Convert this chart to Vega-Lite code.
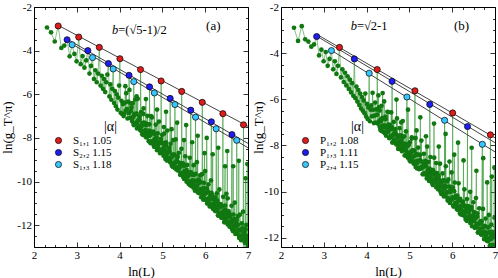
{
"$schema":"https://vega.github.io/schema/vega-lite/v6.json",
"padding":{"left":0,"top":0,"right":4,"bottom":0},
"spacing":33,
"bounds":"flush",
"config":{"view":{"stroke":"black","strokeWidth":1},"font":"Liberation Serif",
"axis":{"domain":false,"grid":false,"labelFont":"Liberation Serif","labelFontSize":11,"labelColor":"black","tickColor":"black","tickWidth":0.8,"titleFont":"Liberation Serif","titleFontSize":13,"titleFontWeight":"normal","titleColor":"black"}},
"datasets":{
"ga":[{"x":2.303,"y":-2.94},{"x":2.398,"y":-3.16},{"x":2.485,"y":-3.58},{"x":2.565,"y":-2.87},{"x":2.639,"y":-3.88},{"x":2.708,"y":-3.77},{"x":2.773,"y":-3.5},{"x":2.833,"y":-4.26},{"x":2.89,"y":-3.73},{"x":2.944,"y":-4.15},{"x":2.996,"y":-4.49},{"x":3.045,"y":-3.38},{"x":3.091,"y":-4.62},{"x":3.135,"y":-4.25},{"x":3.178,"y":-4.78},{"x":3.219,"y":-4.45},{"x":3.258,"y":-4.0},{"x":3.296,"y":-5.05},{"x":3.332,"y":-4.7},{"x":3.367,"y":-4.32},{"x":3.401,"y":-5.3},{"x":3.434,"y":-4.9},{"x":3.466,"y":-5.45},{"x":3.497,"y":-5.05},{"x":3.526,"y":-3.85},{"x":3.555,"y":-5.6},{"x":3.584,"y":-5.15},{"x":3.611,"y":-5.75},{"x":3.638,"y":-5.3},{"x":3.664,"y":-5.9},{"x":3.689,"y":-5.45},{"x":3.714,"y":-5.1},{"x":3.738,"y":-4.59},{"x":3.761,"y":-6.1},{"x":3.784,"y":-5.55},{"x":3.807,"y":-6.25},{"x":3.829,"y":-5.75},{"x":3.85,"y":-4.84},{"x":3.871,"y":-6.4},{"x":3.892,"y":-5.85},{"x":3.912,"y":-6.55},{"x":3.932,"y":-6.0},{"x":3.951,"y":-6.7},{"x":3.97,"y":-6.15},{"x":3.989,"y":-5.6},{"x":4.007,"y":-4.37},{"x":4.025,"y":-6.85},{"x":4.043,"y":-6.3},{"x":4.06,"y":-6.9},{"x":4.078,"y":-6.45},{"x":4.094,"y":-7.0},
{"x":4.22,"y":-5.13},{"x":4.331,"y":-5.42},{"x":4.489,"y":-4.87},{"x":4.7,"y":-5.66},{"x":4.812,"y":-5.94},{"x":4.97,"y":-5.39},{"x":5.182,"y":-6.19},{"x":5.293,"y":-6.47},{"x":5.451,"y":-5.87},{"x":5.663,"y":-6.73},{"x":5.775,"y":-7.05},{"x":5.932,"y":-6.37},{"x":6.144,"y":-7.26},{"x":6.256,"y":-7.58},{"x":6.413,"y":-6.89},{"x":6.625,"y":-7.85},{"x":6.737,"y":-8.11},{"x":6.895,"y":-7.4},
{"x":4.135,"y":-5.63},{"x":4.615,"y":-6.22},{"x":5.085,"y":-6.8},{"x":5.555,"y":-7.41},{"x":6.035,"y":-8.0},{"x":6.515,"y":-8.6},{"x":6.985,"y":-9.2},{"x":4.398,"y":-6.09},{"x":4.875,"y":-6.7},{"x":5.345,"y":-7.3},{"x":5.825,"y":-7.9},{"x":6.305,"y":-8.45},{"x":6.785,"y":-9.05},{"x":4.255,"y":-6.4},{"x":4.735,"y":-7.0},{"x":5.215,"y":-7.6},{"x":5.695,"y":-8.2},{"x":6.175,"y":-8.75},{"x":6.655,"y":-9.3},{"x":4.555,"y":-6.9},{"x":5.035,"y":-7.5},{"x":5.505,"y":-8.1},{"x":5.985,"y":-8.7},{"x":6.465,"y":-9.3},{"x":6.945,"y":-9.85},
{"x":4.11,"y":-6.9},{"x":4.125,"y":-6.38},{"x":4.14,"y":-6.76},{"x":4.155,"y":-5.95},{"x":4.17,"y":-6.68},{"x":4.185,"y":-7.11},{"x":4.2,"y":-6.34},{"x":4.215,"y":-6.87},{"x":4.23,"y":-5.8},{"x":4.245,"y":-7.08},{"x":4.26,"y":-6.77},{"x":4.275,"y":-6.6},{"x":4.29,"y":-7.23},{"x":4.305,"y":-6.41},{"x":4.32,"y":-7.04},{"x":4.335,"y":-7.42},{"x":4.35,"y":-6.91},{"x":4.365,"y":-6.24},{"x":4.38,"y":-7.32},{"x":4.395,"y":-6.9},
{"x":4.41,"y":-7.28},{"x":4.425,"y":-6.21},{"x":4.44,"y":-7.49},{"x":4.455,"y":-7.18},{"x":4.47,"y":-7.01},{"x":4.485,"y":-7.64},{"x":4.5,"y":-6.82},{"x":4.515,"y":-7.45},{"x":4.53,"y":-7.83},{"x":4.545,"y":-7.31},{"x":4.56,"y":-6.65},{"x":4.575,"y":-7.73},{"x":4.59,"y":-7.31},{"x":4.605,"y":-7.94},{"x":4.62,"y":-7.42},{"x":4.635,"y":-7.8},{"x":4.65,"y":-6.99},{"x":4.665,"y":-7.72},{"x":4.68,"y":-8.15},{"x":4.695,"y":-7.38},
{"x":4.71,"y":-7.86},{"x":4.725,"y":-8.24},{"x":4.74,"y":-7.72},{"x":4.755,"y":-7.06},{"x":4.77,"y":-8.14},{"x":4.785,"y":-7.72},{"x":4.8,"y":-8.35},{"x":4.815,"y":-7.83},{"x":4.83,"y":-8.21},{"x":4.845,"y":-7.39},{"x":4.86,"y":-8.13},{"x":4.875,"y":-8.56},{"x":4.89,"y":-7.79},{"x":4.905,"y":-8.32},{"x":4.92,"y":-7.25},{"x":4.935,"y":-8.53},{"x":4.95,"y":-8.22},{"x":4.965,"y":-8.05},{"x":4.98,"y":-8.68},{"x":4.995,"y":-7.86},
{"x":5.01,"y":-8.24},{"x":5.025,"y":-8.62},{"x":5.04,"y":-7.8},{"x":5.055,"y":-8.54},{"x":5.07,"y":-8.97},{"x":5.085,"y":-8.2},{"x":5.1,"y":-8.73},{"x":5.115,"y":-7.66},{"x":5.13,"y":-8.94},{"x":5.145,"y":-8.62},{"x":5.16,"y":-8.46},{"x":5.175,"y":-9.09},{"x":5.19,"y":-8.27},{"x":5.205,"y":-8.9},{"x":5.22,"y":-9.28},{"x":5.235,"y":-8.76},{"x":5.25,"y":-8.1},{"x":5.265,"y":-9.18},{"x":5.28,"y":-8.76},{"x":5.295,"y":-9.39},
{"x":5.31,"y":-8.07},{"x":5.325,"y":-9.35},{"x":5.34,"y":-9.03},{"x":5.355,"y":-8.87},{"x":5.37,"y":-9.5},{"x":5.385,"y":-8.68},{"x":5.4,"y":-9.31},{"x":5.415,"y":-9.69},{"x":5.43,"y":-9.17},{"x":5.445,"y":-8.5},{"x":5.46,"y":-9.59},{"x":5.475,"y":-9.17},{"x":5.49,"y":-9.8},{"x":5.505,"y":-9.28},{"x":5.52,"y":-9.66},{"x":5.535,"y":-8.84},{"x":5.55,"y":-9.58},{"x":5.565,"y":-10.01},{"x":5.58,"y":-9.24},{"x":5.595,"y":-9.77},
{"x":5.61,"y":-10.1},{"x":5.625,"y":-9.58},{"x":5.64,"y":-8.91},{"x":5.655,"y":-10.0},{"x":5.67,"y":-9.58},{"x":5.685,"y":-10.21},{"x":5.7,"y":-9.69},{"x":5.715,"y":-10.07},{"x":5.73,"y":-9.25},{"x":5.745,"y":-9.98},{"x":5.76,"y":-10.42},{"x":5.775,"y":-9.65},{"x":5.79,"y":-10.18},{"x":5.805,"y":-9.11},{"x":5.82,"y":-10.39},{"x":5.835,"y":-10.07},{"x":5.85,"y":-9.91},{"x":5.865,"y":-10.54},{"x":5.88,"y":-9.72},{"x":5.895,"y":-10.35},
{"x":5.91,"y":-10.48},{"x":5.925,"y":-9.66},{"x":5.94,"y":-10.39},{"x":5.955,"y":-10.83},{"x":5.97,"y":-10.06},{"x":5.985,"y":-10.59},{"x":6.0,"y":-9.52},{"x":6.015,"y":-10.8},{"x":6.03,"y":-10.48},{"x":6.045,"y":-10.31},{"x":6.06,"y":-10.95},{"x":6.075,"y":-10.13},{"x":6.09,"y":-10.76},{"x":6.105,"y":-11.14},{"x":6.12,"y":-10.62},{"x":6.135,"y":-9.95},{"x":6.15,"y":-11.04},{"x":6.165,"y":-10.62},{"x":6.18,"y":-11.25},{"x":6.195,"y":-10.73},
{"x":6.21,"y":-11.21},{"x":6.225,"y":-10.89},{"x":6.24,"y":-10.72},{"x":6.255,"y":-11.36},{"x":6.27,"y":-10.54},{"x":6.285,"y":-11.17},{"x":6.3,"y":-11.55},{"x":6.315,"y":-11.03},{"x":6.33,"y":-10.36},{"x":6.345,"y":-11.44},{"x":6.36,"y":-11.03},{"x":6.375,"y":-11.66},{"x":6.39,"y":-11.14},{"x":6.405,"y":-11.52},{"x":6.42,"y":-10.7},{"x":6.435,"y":-11.43},{"x":6.45,"y":-11.87},{"x":6.465,"y":-11.1},{"x":6.48,"y":-11.63},{"x":6.495,"y":-10.56},
{"x":6.51,"y":-11.44},{"x":6.525,"y":-10.77},{"x":6.54,"y":-11.85},{"x":6.555,"y":-11.44},{"x":6.57,"y":-12.07},{"x":6.585,"y":-11.55},{"x":6.6,"y":-11.93},{"x":6.615,"y":-11.11},{"x":6.63,"y":-11.84},{"x":6.645,"y":-12.27},{"x":6.66,"y":-11.51},{"x":6.675,"y":-12.04},{"x":6.69,"y":-10.97},{"x":6.705,"y":-12.25},{"x":6.72,"y":-11.93},{"x":6.735,"y":-11.76},{"x":6.75,"y":-12.4},{"x":6.765,"y":-11.58},{"x":6.78,"y":-12.21},{"x":6.795,"y":-12.59},
{"x":6.81,"y":-11.52},{"x":6.825,"y":-12.25},{"x":6.84,"y":-12.68},{"x":6.855,"y":-11.92},{"x":6.87,"y":-12.45},{"x":6.885,"y":-11.38},{"x":6.9,"y":-12.66},{"x":6.915,"y":-12.34},{"x":6.93,"y":-12.17},{"x":6.945,"y":-12.8},{"x":6.96,"y":-11.99},{"x":6.975,"y":-12.62},{"x":6.99,"y":-13.0},{"x":6.905,"y":-13.1},{"x":6.965,"y":-13.2},{"x":7.0,"y":-12.9},
{"x":4.306,"y":-7.06},{"x":4.326,"y":-7.35},{"x":4.346,"y":-6.94},{"x":4.366,"y":-7.34},{"x":4.386,"y":-6.88},{"x":4.406,"y":-7.57},{"x":4.426,"y":-7.21},{"x":4.446,"y":-7.45},{"x":4.466,"y":-7.15},{"x":4.486,"y":-7.64},
{"x":4.506,"y":-7.68},{"x":4.526,"y":-7.37},{"x":4.546,"y":-7.86},{"x":4.566,"y":-7.31},{"x":4.586,"y":-7.7},{"x":4.606,"y":-7.64},{"x":4.626,"y":-7.98},{"x":4.646,"y":-7.37},{"x":4.666,"y":-7.92},{"x":4.686,"y":-7.66},
{"x":4.706,"y":-7.9},{"x":4.726,"y":-8.19},{"x":4.746,"y":-7.78},{"x":4.766,"y":-8.18},{"x":4.786,"y":-7.72},{"x":4.806,"y":-8.41},{"x":4.826,"y":-8.05},{"x":4.846,"y":-8.29},{"x":4.866,"y":-7.99},{"x":4.886,"y":-8.48},
{"x":4.906,"y":-8.52},{"x":4.926,"y":-8.21},{"x":4.946,"y":-8.7},{"x":4.966,"y":-8.15},{"x":4.986,"y":-8.54},
{"x":5.006,"y":-8.53},{"x":5.026,"y":-8.82},{"x":5.046,"y":-8.41},{"x":5.066,"y":-8.81},{"x":5.086,"y":-8.35},{"x":5.106,"y":-9.04},{"x":5.126,"y":-8.68},{"x":5.146,"y":-8.92},{"x":5.166,"y":-8.62},{"x":5.186,"y":-9.11},
{"x":5.206,"y":-9.15},{"x":5.226,"y":-8.84},{"x":5.246,"y":-9.33},{"x":5.266,"y":-8.78},{"x":5.286,"y":-9.17},{"x":5.306,"y":-9.11},{"x":5.326,"y":-9.45},{"x":5.346,"y":-8.84},{"x":5.366,"y":-9.39},{"x":5.386,"y":-9.13},
{"x":5.406,"y":-9.37},{"x":5.426,"y":-9.66},{"x":5.446,"y":-9.25},{"x":5.466,"y":-9.65},{"x":5.486,"y":-9.19},{"x":5.506,"y":-9.88},{"x":5.526,"y":-9.52},{"x":5.546,"y":-9.76},{"x":5.566,"y":-9.46},{"x":5.586,"y":-9.95},
{"x":5.606,"y":-9.99},{"x":5.626,"y":-9.68},{"x":5.646,"y":-10.17},{"x":5.666,"y":-9.62},{"x":5.686,"y":-10.01},{"x":5.706,"y":-9.95},{"x":5.726,"y":-10.29},{"x":5.746,"y":-9.68},{"x":5.766,"y":-10.23},{"x":5.786,"y":-9.97},
{"x":5.806,"y":-10.21},{"x":5.826,"y":-10.5},{"x":5.846,"y":-10.09},{"x":5.866,"y":-10.49},{"x":5.886,"y":-10.03},{"x":5.906,"y":-10.72},{"x":5.926,"y":-10.36},{"x":5.946,"y":-10.6},{"x":5.966,"y":-10.3},{"x":5.986,"y":-10.79},
{"x":6.006,"y":-10.83},{"x":6.026,"y":-10.52},{"x":6.046,"y":-11.01},{"x":6.066,"y":-10.46},{"x":6.086,"y":-10.85},{"x":6.106,"y":-10.79},{"x":6.126,"y":-11.13},{"x":6.146,"y":-10.52},{"x":6.166,"y":-11.07},{"x":6.186,"y":-10.81},
{"x":6.206,"y":-11.05},{"x":6.226,"y":-11.34},{"x":6.246,"y":-10.93},{"x":6.266,"y":-11.33},{"x":6.286,"y":-10.87},{"x":6.306,"y":-11.56},{"x":6.326,"y":-11.2},{"x":6.346,"y":-11.44},{"x":6.366,"y":-11.14},{"x":6.386,"y":-11.63},
{"x":6.406,"y":-11.67},{"x":6.426,"y":-11.36},{"x":6.446,"y":-11.85},{"x":6.466,"y":-11.3},{"x":6.486,"y":-11.69},{"x":6.506,"y":-11.63},{"x":6.526,"y":-11.97},{"x":6.546,"y":-11.36},{"x":6.566,"y":-11.91},{"x":6.586,"y":-11.65},
{"x":6.606,"y":-11.89},{"x":6.626,"y":-12.18},{"x":6.646,"y":-11.77},{"x":6.666,"y":-12.17},{"x":6.686,"y":-11.71},{"x":6.706,"y":-12.4},{"x":6.726,"y":-12.04},{"x":6.746,"y":-12.28},{"x":6.766,"y":-11.98},{"x":6.786,"y":-12.47},
{"x":6.806,"y":-12.51},{"x":6.826,"y":-12.2},{"x":6.846,"y":-12.69},{"x":6.866,"y":-12.14},{"x":6.886,"y":-12.53},{"x":6.906,"y":-12.47},{"x":6.926,"y":-12.81},{"x":6.946,"y":-12.2},{"x":6.966,"y":-12.75},{"x":6.986,"y":-12.49}],
"gb":[{"x":2.303,"y":-2.9},{"x":2.398,"y":-3.47},{"x":2.485,"y":-2.83},{"x":2.565,"y":-3.4},{"x":2.639,"y":-3.5},{"x":2.708,"y":-3.72},{"x":2.773,"y":-3.62},{"x":2.833,"y":-3.28},{"x":2.89,"y":-4.1},{"x":2.944,"y":-3.85},{"x":2.996,"y":-4.35},{"x":3.045,"y":-3.95},{"x":3.091,"y":-4.55},{"x":3.135,"y":-4.25},{"x":3.178,"y":-3.89},{"x":3.219,"y":-4.7},{"x":3.258,"y":-4.35},{"x":3.296,"y":-4.9},{"x":3.332,"y":-4.55},{"x":3.367,"y":-3.75},{"x":3.401,"y":-5.05},{"x":3.434,"y":-4.7},{"x":3.466,"y":-5.25},{"x":3.497,"y":-4.85},{"x":3.526,"y":-5.4},{"x":3.555,"y":-5.0},{"x":3.584,"y":-5.55},{"x":3.611,"y":-5.15},{"x":3.638,"y":-5.7},{"x":3.664,"y":-5.3},{"x":3.689,"y":-5.85},{"x":3.714,"y":-4.25},{"x":3.738,"y":-5.95},{"x":3.761,"y":-5.45},{"x":3.784,"y":-6.1},{"x":3.807,"y":-5.6},{"x":3.829,"y":-6.25},{"x":3.85,"y":-5.75},{"x":3.871,"y":-6.4},{"x":3.892,"y":-5.9},{"x":3.912,"y":-6.5},{"x":3.932,"y":-6.05},{"x":3.951,"y":-6.6},{"x":3.97,"y":-5.75},{"x":3.989,"y":-6.75},{"x":4.007,"y":-6.2},{"x":4.025,"y":-6.85},{"x":4.043,"y":-6.35},{"x":4.06,"y":-4.87},{"x":4.078,"y":-6.95},{"x":4.094,"y":-6.45},
{"x":4.248,"y":-4.71},{"x":4.595,"y":-5.22},{"x":4.942,"y":-5.9},{"x":5.13,"y":-5.63},{"x":5.476,"y":-6.22},{"x":5.823,"y":-6.91},{"x":6.011,"y":-6.59},{"x":6.358,"y":-7.18},{"x":6.704,"y":-7.95},{"x":6.893,"y":-7.54},
{"x":4.375,"y":-5.73},{"x":5.255,"y":-6.78},{"x":6.137,"y":-7.88},{"x":6.985,"y":-8.95},{"x":4.698,"y":-6.01},{"x":5.575,"y":-7.05},{"x":6.455,"y":-8.1},{"x":4.967,"y":-6.45},{"x":5.845,"y":-7.5},{"x":6.725,"y":-8.55},{"x":4.505,"y":-6.55},{"x":5.387,"y":-7.6},{"x":6.265,"y":-8.65},{"x":4.807,"y":-7.0},{"x":5.687,"y":-8.05},{"x":6.565,"y":-9.1},{"x":4.285,"y":-6.35},{"x":5.167,"y":-7.35},{"x":6.047,"y":-8.4},{"x":6.925,"y":-9.35},{"x":5.057,"y":-7.7},{"x":5.937,"y":-8.7},{"x":6.817,"y":-9.6},
{"x":4.11,"y":-6.26},{"x":4.125,"y":-6.74},{"x":4.14,"y":-5.72},{"x":4.155,"y":-6.45},{"x":4.17,"y":-7.03},{"x":4.185,"y":-6.71},{"x":4.2,"y":-6.14},{"x":4.215,"y":-7.01},{"x":4.23,"y":-6.44},{"x":4.245,"y":-6.67},{"x":4.26,"y":-7.05},{"x":4.275,"y":-5.83},{"x":4.29,"y":-6.96},{"x":4.305,"y":-6.49},{"x":4.32,"y":-7.32},{"x":4.335,"y":-6.95},{"x":4.35,"y":-6.28},{"x":4.365,"y":-7.16},{"x":4.38,"y":-6.84},{"x":4.395,"y":-7.42},
{"x":4.41,"y":-6.09},{"x":4.425,"y":-7.22},{"x":4.44,"y":-6.75},{"x":4.455,"y":-7.58},{"x":4.47,"y":-7.21},{"x":4.485,"y":-6.54},{"x":4.5,"y":-7.42},{"x":4.515,"y":-7.1},{"x":4.53,"y":-7.68},{"x":4.545,"y":-7.11},{"x":4.56,"y":-7.59},{"x":4.575,"y":-6.57},{"x":4.59,"y":-7.3},{"x":4.605,"y":-7.87},{"x":4.62,"y":-7.55},{"x":4.635,"y":-6.98},{"x":4.65,"y":-7.86},{"x":4.665,"y":-7.29},{"x":4.68,"y":-7.52},{"x":4.695,"y":-7.9},
{"x":4.71,"y":-6.83},{"x":4.725,"y":-7.56},{"x":4.74,"y":-8.14},{"x":4.755,"y":-7.82},{"x":4.77,"y":-7.25},{"x":4.785,"y":-8.13},{"x":4.8,"y":-7.56},{"x":4.815,"y":-7.78},{"x":4.83,"y":-8.16},{"x":4.845,"y":-6.94},{"x":4.86,"y":-8.07},{"x":4.875,"y":-7.6},{"x":4.89,"y":-8.43},{"x":4.905,"y":-8.06},{"x":4.92,"y":-7.39},{"x":4.935,"y":-8.27},{"x":4.95,"y":-7.95},{"x":4.965,"y":-8.53},{"x":4.98,"y":-7.96},{"x":4.995,"y":-8.44},
{"x":5.01,"y":-7.86},{"x":5.025,"y":-8.69},{"x":5.04,"y":-8.32},{"x":5.055,"y":-7.65},{"x":5.07,"y":-8.53},{"x":5.085,"y":-8.21},{"x":5.1,"y":-8.79},{"x":5.115,"y":-8.22},{"x":5.13,"y":-8.7},{"x":5.145,"y":-7.68},{"x":5.16,"y":-8.41},{"x":5.175,"y":-8.99},{"x":5.19,"y":-8.67},{"x":5.205,"y":-8.09},{"x":5.22,"y":-8.97},{"x":5.235,"y":-8.4},{"x":5.25,"y":-8.63},{"x":5.265,"y":-9.01},{"x":5.28,"y":-7.79},{"x":5.295,"y":-8.92},
{"x":5.31,"y":-9.25},{"x":5.325,"y":-8.93},{"x":5.34,"y":-8.36},{"x":5.355,"y":-9.24},{"x":5.37,"y":-8.67},{"x":5.385,"y":-8.9},{"x":5.4,"y":-9.28},{"x":5.415,"y":-8.05},{"x":5.43,"y":-9.18},{"x":5.445,"y":-8.71},{"x":5.46,"y":-9.54},{"x":5.475,"y":-9.17},{"x":5.49,"y":-8.5},{"x":5.505,"y":-9.38},{"x":5.52,"y":-9.06},{"x":5.535,"y":-9.64},{"x":5.55,"y":-9.07},{"x":5.565,"y":-9.55},{"x":5.58,"y":-8.53},{"x":5.595,"y":-9.26},
{"x":5.61,"y":-9.43},{"x":5.625,"y":-8.76},{"x":5.64,"y":-9.64},{"x":5.655,"y":-9.32},{"x":5.67,"y":-9.9},{"x":5.685,"y":-9.33},{"x":5.7,"y":-9.81},{"x":5.715,"y":-8.79},{"x":5.73,"y":-9.52},{"x":5.745,"y":-10.1},{"x":5.76,"y":-9.78},{"x":5.775,"y":-9.21},{"x":5.79,"y":-10.09},{"x":5.805,"y":-9.51},{"x":5.82,"y":-9.74},{"x":5.835,"y":-10.12},{"x":5.85,"y":-8.9},{"x":5.865,"y":-10.03},{"x":5.88,"y":-9.56},{"x":5.895,"y":-10.39},
{"x":5.91,"y":-9.47},{"x":5.925,"y":-10.35},{"x":5.94,"y":-9.78},{"x":5.955,"y":-10.01},{"x":5.97,"y":-10.39},{"x":5.985,"y":-9.17},{"x":6.0,"y":-10.3},{"x":6.015,"y":-9.82},{"x":6.03,"y":-10.65},{"x":6.045,"y":-10.28},{"x":6.06,"y":-9.61},{"x":6.075,"y":-10.49},{"x":6.09,"y":-10.17},{"x":6.105,"y":-10.75},{"x":6.12,"y":-10.18},{"x":6.135,"y":-10.66},{"x":6.15,"y":-9.64},{"x":6.165,"y":-10.37},{"x":6.18,"y":-10.95},{"x":6.195,"y":-10.63},
{"x":6.21,"y":-10.75},{"x":6.225,"y":-10.43},{"x":6.24,"y":-11.01},{"x":6.255,"y":-10.44},{"x":6.27,"y":-10.92},{"x":6.285,"y":-9.9},{"x":6.3,"y":-10.63},{"x":6.315,"y":-11.21},{"x":6.33,"y":-10.89},{"x":6.345,"y":-10.32},{"x":6.36,"y":-11.2},{"x":6.375,"y":-10.63},{"x":6.39,"y":-10.86},{"x":6.405,"y":-11.23},{"x":6.42,"y":-10.01},{"x":6.435,"y":-11.14},{"x":6.45,"y":-10.67},{"x":6.465,"y":-11.5},{"x":6.48,"y":-11.13},{"x":6.495,"y":-10.46},
{"x":6.51,"y":-10.89},{"x":6.525,"y":-11.12},{"x":6.54,"y":-11.5},{"x":6.555,"y":-10.28},{"x":6.57,"y":-11.41},{"x":6.585,"y":-10.94},{"x":6.6,"y":-11.77},{"x":6.615,"y":-11.39},{"x":6.63,"y":-10.72},{"x":6.645,"y":-11.6},{"x":6.66,"y":-11.28},{"x":6.675,"y":-11.86},{"x":6.69,"y":-11.29},{"x":6.705,"y":-11.77},{"x":6.72,"y":-10.75},{"x":6.735,"y":-11.48},{"x":6.75,"y":-12.06},{"x":6.765,"y":-11.74},{"x":6.78,"y":-11.17},{"x":6.795,"y":-12.05},
{"x":6.81,"y":-12.12},{"x":6.825,"y":-11.55},{"x":6.84,"y":-12.03},{"x":6.855,"y":-11.01},{"x":6.87,"y":-11.74},{"x":6.885,"y":-12.32},{"x":6.9,"y":-12.0},{"x":6.915,"y":-11.43},{"x":6.93,"y":-12.31},{"x":6.945,"y":-11.74},{"x":6.96,"y":-11.97},{"x":6.975,"y":-12.35},{"x":6.99,"y":-11.13},{"x":6.868,"y":-12.45},{"x":6.928,"y":-12.6},{"x":6.988,"y":-12.7},{"x":7.0,"y":-12.5},
{"x":4.306,"y":-7.19},{"x":4.326,"y":-6.88},{"x":4.346,"y":-7.37},{"x":4.366,"y":-6.81},{"x":4.386,"y":-7.2},{"x":4.406,"y":-7.13},{"x":4.426,"y":-7.47},{"x":4.446,"y":-6.86},{"x":4.466,"y":-7.4},{"x":4.486,"y":-7.14},
{"x":4.506,"y":-7.38},{"x":4.526,"y":-7.67},{"x":4.546,"y":-7.26},{"x":4.566,"y":-7.65},{"x":4.586,"y":-7.19},{"x":4.606,"y":-7.87},{"x":4.626,"y":-7.51},{"x":4.646,"y":-7.75},{"x":4.666,"y":-7.44},{"x":4.686,"y":-7.93},
{"x":4.706,"y":-7.97},{"x":4.726,"y":-7.66},{"x":4.746,"y":-8.15},{"x":4.766,"y":-7.59},{"x":4.786,"y":-7.98},{"x":4.806,"y":-7.91},{"x":4.826,"y":-8.25},{"x":4.846,"y":-7.64},{"x":4.866,"y":-8.18},{"x":4.886,"y":-7.92},
{"x":4.906,"y":-8.16},{"x":4.926,"y":-8.45},{"x":4.946,"y":-8.04},{"x":4.966,"y":-8.43},{"x":4.986,"y":-7.97},{"x":5.006,"y":-8.65},{"x":5.026,"y":-8.29},{"x":5.046,"y":-8.53},{"x":5.066,"y":-8.22},{"x":5.086,"y":-8.71},
{"x":5.106,"y":-8.75},{"x":5.126,"y":-8.44},{"x":5.146,"y":-8.93},{"x":5.166,"y":-8.37},{"x":5.186,"y":-8.76},{"x":5.206,"y":-8.69},{"x":5.226,"y":-9.03},{"x":5.246,"y":-8.42},{"x":5.266,"y":-8.96},{"x":5.286,"y":-8.7},
{"x":5.306,"y":-8.94},{"x":5.326,"y":-9.23},{"x":5.346,"y":-8.82},{"x":5.366,"y":-9.21},{"x":5.386,"y":-8.75},{"x":5.406,"y":-9.43},{"x":5.426,"y":-9.07},{"x":5.446,"y":-9.31},{"x":5.466,"y":-9.0},{"x":5.486,"y":-9.49},
{"x":5.506,"y":-9.53},{"x":5.526,"y":-9.22},{"x":5.546,"y":-9.71},{"x":5.566,"y":-9.15},{"x":5.586,"y":-9.54},{"x":5.606,"y":-9.47},{"x":5.626,"y":-9.81},{"x":5.646,"y":-9.2},{"x":5.666,"y":-9.74},{"x":5.686,"y":-9.48},
{"x":5.706,"y":-9.72},{"x":5.726,"y":-10.01},{"x":5.746,"y":-9.6},{"x":5.766,"y":-9.99},{"x":5.786,"y":-9.53},{"x":5.806,"y":-10.21},{"x":5.826,"y":-9.85},{"x":5.846,"y":-10.09},{"x":5.866,"y":-9.78},{"x":5.886,"y":-10.27},
{"x":5.906,"y":-10.31},{"x":5.926,"y":-10.0},{"x":5.946,"y":-10.49},{"x":5.966,"y":-9.93},{"x":5.986,"y":-10.32},{"x":6.006,"y":-10.25},{"x":6.026,"y":-10.59},{"x":6.046,"y":-9.98},{"x":6.066,"y":-10.52},{"x":6.086,"y":-10.26},
{"x":6.106,"y":-10.5},{"x":6.126,"y":-10.79},{"x":6.146,"y":-10.38},{"x":6.166,"y":-10.77},{"x":6.186,"y":-10.31},{"x":6.206,"y":-10.99},{"x":6.226,"y":-10.63},{"x":6.246,"y":-10.87},{"x":6.266,"y":-10.56},{"x":6.286,"y":-11.05},
{"x":6.306,"y":-11.09},{"x":6.326,"y":-10.78},{"x":6.346,"y":-11.27},{"x":6.366,"y":-10.71},{"x":6.386,"y":-11.1},{"x":6.406,"y":-11.03},{"x":6.426,"y":-11.37},{"x":6.446,"y":-10.76},{"x":6.466,"y":-11.3},{"x":6.486,"y":-11.04},
{"x":6.506,"y":-11.28},{"x":6.526,"y":-11.57},{"x":6.546,"y":-11.16},{"x":6.566,"y":-11.55},{"x":6.586,"y":-11.09},{"x":6.606,"y":-11.77},{"x":6.626,"y":-11.41},{"x":6.646,"y":-11.65},{"x":6.666,"y":-11.34},{"x":6.686,"y":-11.83},
{"x":6.706,"y":-11.87},{"x":6.726,"y":-11.56},{"x":6.746,"y":-12.05},{"x":6.766,"y":-11.49},{"x":6.786,"y":-11.88},{"x":6.806,"y":-11.81},{"x":6.826,"y":-12.15},{"x":6.846,"y":-11.54},{"x":6.866,"y":-12.08},{"x":6.886,"y":-11.82},
{"x":6.906,"y":-12.06},{"x":6.926,"y":-12.35},{"x":6.946,"y":-11.94},{"x":6.966,"y":-12.33},{"x":6.986,"y":-11.87}],
"ca":[{"x":2.565,"y":-2.87,"s":"S₁,₁   1.05"},{"x":3.045,"y":-3.38,"s":"S₁,₁   1.05"},{"x":3.526,"y":-3.85,"s":"S₁,₁   1.05"},{"x":4.007,"y":-4.37,"s":"S₁,₁   1.05"},{"x":4.489,"y":-4.87,"s":"S₁,₁   1.05"},{"x":4.97,"y":-5.39,"s":"S₁,₁   1.05"},{"x":5.451,"y":-5.87,"s":"S₁,₁   1.05"},{"x":5.932,"y":-6.37,"s":"S₁,₁   1.05"},{"x":6.413,"y":-6.89,"s":"S₁,₁   1.05"},{"x":6.895,"y":-7.4,"s":"S₁,₁   1.05"},
{"x":2.773,"y":-3.5,"s":"S₂,₂   1.15"},{"x":3.258,"y":-4.0,"s":"S₂,₂   1.15"},{"x":3.738,"y":-4.59,"s":"S₂,₂   1.15"},{"x":4.22,"y":-5.13,"s":"S₂,₂   1.15"},{"x":4.7,"y":-5.66,"s":"S₂,₂   1.15"},{"x":5.182,"y":-6.19,"s":"S₂,₂   1.15"},{"x":5.663,"y":-6.73,"s":"S₂,₂   1.15"},{"x":6.144,"y":-7.26,"s":"S₂,₂   1.15"},{"x":6.625,"y":-7.85,"s":"S₂,₂   1.15"},
{"x":2.89,"y":-3.73,"s":"S₁,₃   1.18"},{"x":3.367,"y":-4.32,"s":"S₁,₃   1.18"},{"x":3.85,"y":-4.84,"s":"S₁,₃   1.18"},{"x":4.331,"y":-5.42,"s":"S₁,₃   1.18"},{"x":4.812,"y":-5.94,"s":"S₁,₃   1.18"},{"x":5.293,"y":-6.47,"s":"S₁,₃   1.18"},{"x":5.775,"y":-7.05,"s":"S₁,₃   1.18"},{"x":6.256,"y":-7.58,"s":"S₁,₃   1.18"},{"x":6.737,"y":-8.11,"s":"S₁,₃   1.18"}],
"cb":[{"x":3.367,"y":-3.75,"s":"P₁,₂   1.08"},{"x":4.248,"y":-4.71,"s":"P₁,₂   1.08"},{"x":5.13,"y":-5.63,"s":"P₁,₂   1.08"},{"x":6.011,"y":-6.59,"s":"P₁,₂   1.08"},{"x":6.893,"y":-7.54,"s":"P₁,₂   1.08"},
{"x":2.833,"y":-3.28,"s":"P₁,₃   1.11"},{"x":3.714,"y":-4.25,"s":"P₁,₃   1.11"},{"x":4.595,"y":-5.22,"s":"P₁,₃   1.11"},{"x":5.476,"y":-6.22,"s":"P₁,₃   1.11"},{"x":6.358,"y":-7.18,"s":"P₁,₃   1.11"},
{"x":3.178,"y":-3.89,"s":"P₂,₄   1.15"},{"x":4.06,"y":-4.87,"s":"P₂,₄   1.15"},{"x":4.942,"y":-5.9,"s":"P₂,₄   1.15"},{"x":5.823,"y":-6.91,"s":"P₂,₄   1.15"},{"x":6.704,"y":-7.95,"s":"P₂,₄   1.15"}],
"fa":[{"x":2.565,"y":-2.84,"x2":7,"y2":-7.47},{"x":2.773,"y":-3.47,"x2":7,"y2":-8.25},{"x":2.89,"y":-3.7,"x2":7,"y2":-8.45}],
"fb":[{"x":2.833,"y":-3.18,"x2":7,"y2":-7.67},{"x":2.833,"y":-3.26,"x2":7,"y2":-7.88},{"x":3.178,"y":-3.88,"x2":7,"y2":-8.28}]
},
"hconcat":[
{"width":214,"height":240,
"layer":[
{"data":{"name":"ga"},"mark":{"type":"line","color":"#339933","opacity":0.6,"strokeWidth":1,"clip":true},
"encoding":{"x":{"field":"x","type":"quantitative","scale":{"domain":[2,7],"nice":false,"zero":false},
"axis":{"orient":"bottom","values":[2,2.25,2.5,2.75,3,3.25,3.5,3.75,4,4.25,4.5,4.75,5,5.25,5.5,5.75,6,6.25,6.5,6.75,7],"labelExpr":"datum.value % 1 === 0 ? toString(datum.value) : ''","tickSize":{"condition":{"test":"datum.value % 1 === 0","value":-5},"value":-2.5},"labelPadding":7,"labelFlush":false,"labelOverlap":false,"title":"ln(L)","titlePadding":3}},
"y":{"field":"y","type":"quantitative","scale":{"domain":[-13,-2],"nice":false,"zero":false},
"axis":{"orient":"left","values":[-13,-12.5,-12,-11.5,-11,-10.5,-10,-9.5,-9,-8.5,-8,-7.5,-7,-6.5,-6,-5.5,-5,-4.5,-4,-3.5,-3,-2.5,-2],"labelExpr":"datum.value % 2 === 0 ? toString(datum.value) : ''","tickSize":{"condition":{"test":"datum.value % 2 === 0","value":-5},"value":-2.5},"labelPadding":7.5,"labelFlush":false,"labelOverlap":false,"title":"ln(g_T^π)","titlePadding":4,"minExtent":16,"maxExtent":16}}}},
{"data":{"name":"ga"},"mark":{"type":"circle","color":"#117811","size":22,"opacity":1,"clip":true},
"encoding":{"x":{"field":"x","type":"quantitative","axis":{"orient":"top","values":[2,2.25,2.5,2.75,3,3.25,3.5,3.75,4,4.25,4.5,4.75,5,5.25,5.5,5.75,6,6.25,6.5,6.75,7],"labels":false,"title":null,"tickSize":{"condition":{"test":"datum.value % 1 === 0","value":-5},"value":-2.5}}},
"y":{"field":"y","type":"quantitative","axis":{"orient":"right","values":[-13,-12.5,-12,-11.5,-11,-10.5,-10,-9.5,-9,-8.5,-8,-7.5,-7,-6.5,-6,-5.5,-5,-4.5,-4,-3.5,-3,-2.5,-2],"labels":false,"title":null,"tickSize":{"condition":{"test":"datum.value % 2 === 0","value":-5},"value":-2.5}}}}},
{"data":{"name":"fa"},"mark":{"type":"rule","color":"#444444","strokeWidth":1},
"encoding":{"x":{"field":"x","type":"quantitative","axis":null},"y":{"field":"y","type":"quantitative","axis":null},"x2":{"field":"x2"},"y2":{"field":"y2"}}},
{"data":{"name":"ca"},"mark":{"type":"circle","size":38,"opacity":1,"stroke":"black","strokeWidth":0.7},
"encoding":{"x":{"field":"x","type":"quantitative","axis":null},"y":{"field":"y","type":"quantitative","axis":null},
"color":{"field":"s","type":"nominal","scale":{"domain":["S₁,₁   1.05","S₂,₂   1.15","S₁,₃   1.18"],"range":["#dd1c1c","#1e1ef0","#38c6ff"]},
"legend":{"orient":"none","legendX":19,"legendY":113,"title":"|α|","titleFontSize":14,"titleFont":"Liberation Serif","titleFontWeight":"normal","titleAnchor":"end","titlePadding":1,"labelFont":"Liberation Serif","labelFontSize":11,"labelOffset":9,"symbolType":"circle","symbolSize":38,"symbolStrokeColor":"black","symbolStrokeWidth":0.7,"symbolOpacity":1,"rowPadding":0,"padding":0}}}},
{"data":{"values":[{}]},"mark":{"type":"text","text":"b","font":"Liberation Serif","fontStyle":"italic","fontSize":12.5,"align":"right","baseline":"middle"},
"encoding":{"x":{"datum":3.967,"type":"quantitative","axis":null},"y":{"datum":-3.04,"type":"quantitative","axis":null}}},
{"data":{"values":[{}]},"mark":{"type":"text","text":"=(√5-1)/2","font":"Liberation Serif","fontSize":12.5,"align":"left","baseline":"middle"},
"encoding":{"x":{"datum":3.967,"type":"quantitative","axis":null},"y":{"datum":-3.04,"type":"quantitative","axis":null}}},
{"data":{"values":[{}]},"mark":{"type":"text","text":"(a)","font":"Liberation Serif","fontSize":13,"align":"center","baseline":"middle"},
"encoding":{"x":{"datum":6.19,"type":"quantitative","axis":null},"y":{"datum":-2.86,"type":"quantitative","axis":null}}}
],
"resolve":{"axis":{"x":"independent","y":"independent"}}},
{"width":214,"height":240,
"layer":[
{"data":{"name":"gb"},"mark":{"type":"line","color":"#339933","opacity":0.6,"strokeWidth":1,"clip":true},
"encoding":{"x":{"field":"x","type":"quantitative","scale":{"domain":[2,7],"nice":false,"zero":false},
"axis":{"orient":"bottom","values":[2,2.25,2.5,2.75,3,3.25,3.5,3.75,4,4.25,4.5,4.75,5,5.25,5.5,5.75,6,6.25,6.5,6.75,7],"labelExpr":"datum.value % 1 === 0 ? toString(datum.value) : ''","tickSize":{"condition":{"test":"datum.value % 1 === 0","value":-5},"value":-2.5},"labelPadding":7,"labelFlush":false,"labelOverlap":false,"title":"ln(L)","titlePadding":3}},
"y":{"field":"y","type":"quantitative","scale":{"domain":[-12.4,-2],"nice":false,"zero":false},
"axis":{"orient":"left","values":[-12,-11.5,-11,-10.5,-10,-9.5,-9,-8.5,-8,-7.5,-7,-6.5,-6,-5.5,-5,-4.5,-4,-3.5,-3,-2.5,-2],"labelExpr":"datum.value % 2 === 0 ? toString(datum.value) : ''","tickSize":{"condition":{"test":"datum.value % 2 === 0","value":-5},"value":-2.5},"labelPadding":7.5,"labelFlush":false,"labelOverlap":false,"title":"ln(g_T^π)","titlePadding":0,"minExtent":16,"maxExtent":16}}}},
{"data":{"name":"gb"},"mark":{"type":"circle","color":"#117811","size":22,"opacity":1,"clip":true},
"encoding":{"x":{"field":"x","type":"quantitative","axis":{"orient":"top","values":[2,2.25,2.5,2.75,3,3.25,3.5,3.75,4,4.25,4.5,4.75,5,5.25,5.5,5.75,6,6.25,6.5,6.75,7],"labels":false,"title":null,"tickSize":{"condition":{"test":"datum.value % 1 === 0","value":-5},"value":-2.5}}},
"y":{"field":"y","type":"quantitative","axis":{"orient":"right","values":[-12,-11.5,-11,-10.5,-10,-9.5,-9,-8.5,-8,-7.5,-7,-6.5,-6,-5.5,-5,-4.5,-4,-3.5,-3,-2.5,-2],"labels":false,"title":null,"tickSize":{"condition":{"test":"datum.value % 2 === 0","value":-5},"value":-2.5}}}}},
{"data":{"name":"fb"},"mark":{"type":"rule","color":"#444444","strokeWidth":1},
"encoding":{"x":{"field":"x","type":"quantitative","axis":null},"y":{"field":"y","type":"quantitative","axis":null},"x2":{"field":"x2"},"y2":{"field":"y2"}}},
{"data":{"name":"cb"},"mark":{"type":"circle","size":38,"opacity":1,"stroke":"black","strokeWidth":0.7},
"encoding":{"x":{"field":"x","type":"quantitative","axis":null},"y":{"field":"y","type":"quantitative","axis":null},
"color":{"field":"s","type":"nominal","scale":{"domain":["P₁,₂   1.08","P₁,₃   1.11","P₂,₄   1.15"],"range":["#dd1c1c","#1e1ef0","#38c6ff"]},
"legend":{"orient":"none","legendX":19,"legendY":113,"title":"|α|","titleFontSize":14,"titleFont":"Liberation Serif","titleFontWeight":"normal","titleAnchor":"end","titlePadding":1,"labelFont":"Liberation Serif","labelFontSize":11,"labelOffset":9,"symbolType":"circle","symbolSize":38,"symbolStrokeColor":"black","symbolStrokeWidth":0.7,"symbolOpacity":1,"rowPadding":0,"padding":0}}}},
{"data":{"values":[{}]},"mark":{"type":"text","text":"b","font":"Liberation Serif","fontStyle":"italic","fontSize":12.5,"align":"right","baseline":"middle"},
"encoding":{"x":{"datum":3.773,"type":"quantitative","axis":null},"y":{"datum":-2.84,"type":"quantitative","axis":null}}},
{"data":{"values":[{}]},"mark":{"type":"text","text":"=√2-1","font":"Liberation Serif","fontSize":12.5,"align":"left","baseline":"middle"},
"encoding":{"x":{"datum":3.773,"type":"quantitative","axis":null},"y":{"datum":-2.84,"type":"quantitative","axis":null}}},
{"data":{"values":[{}]},"mark":{"type":"text","text":"(b)","font":"Liberation Serif","fontSize":13,"align":"center","baseline":"middle"},
"encoding":{"x":{"datum":6.22,"type":"quantitative","axis":null},"y":{"datum":-2.81,"type":"quantitative","axis":null}}}
],
"resolve":{"axis":{"x":"independent","y":"independent"}}}
],
"resolve":{"scale":{"color":"independent"},"legend":{"color":"independent"}}
}
